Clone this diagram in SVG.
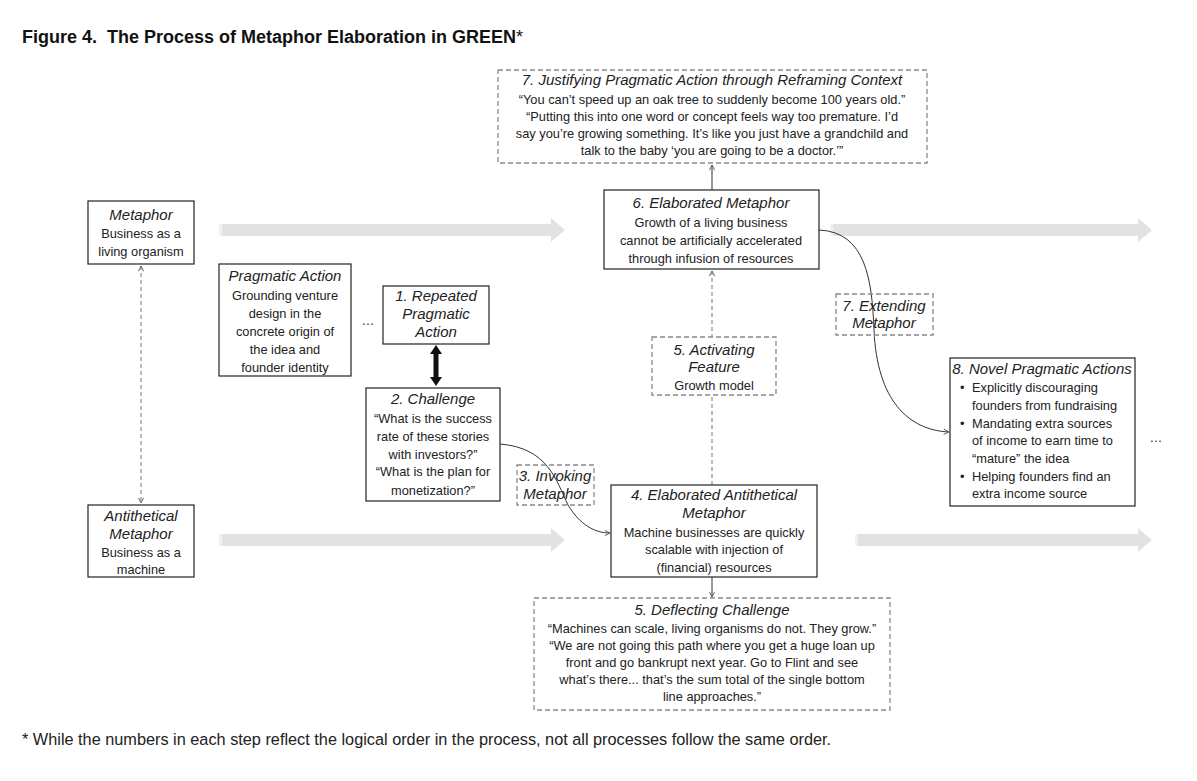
<svg xmlns="http://www.w3.org/2000/svg" width="1197" height="781" viewBox="0 0 1197 781">
<defs>
<style>
text{font-family:"Liberation Sans",Arial,sans-serif;font-size:12.8px;fill:#222;text-anchor:middle}
.it{font-style:italic;font-size:15px}
.l{text-anchor:start}
.box{fill:#fff;stroke:#222;stroke-width:1.2}
.dbox{fill:#fff;stroke:#8a8a8a;stroke-width:1.3;stroke-dasharray:5,3}
.gray{fill:#e2e2e4}
.con{fill:none;stroke:#333;stroke-width:1}
.dcon{fill:none;stroke:#777;stroke-width:1;stroke-dasharray:4,3}
</style>
<marker id="ah" viewBox="0 0 8 8" refX="7" refY="4" markerWidth="7" markerHeight="7" orient="auto-start-reverse" markerUnits="userSpaceOnUse">
<path d="M1,1 L7,4 L1,7" fill="none" stroke="#555" stroke-width="1"/>
</marker>
</defs>
<rect width="1197" height="781" fill="#fff"/>
<text x="22" y="43" class="l" xml:space="preserve" style="font-weight:bold;font-size:18px;fill:#111">Figure 4.  The Process of Metaphor Elaboration in GREEN<tspan style="font-weight:normal">*</tspan></text>

<g id="flow-arrows">
<path class="gray" d="M219,224 H551 V218 L565,230 L551,242 V236 H219 Z"/>
<rect x="219" y="224" width="3" height="12" fill="#f2f2f2"/>
<path class="gray" d="M830,224 H1138 V218 L1152,230 L1138,242 V236 H830 Z"/>
<rect x="830" y="224" width="3" height="12" fill="#f2f2f2"/>
<path class="gray" d="M219,534 H551 V528 L565,540 L551,552 V546 H219 Z"/>
<rect x="219" y="534" width="3" height="12" fill="#f2f2f2"/>
<path class="gray" d="M855,534 H1138 V528 L1152,540 L1138,552 V546 H855 Z"/>
<rect x="855" y="534" width="3" height="12" fill="#f2f2f2"/>
</g>

<g id="connectors">
<line class="dcon" x1="141" y1="266" x2="141" y2="503" marker-start="url(#ah)" marker-end="url(#ah)"/>
<line class="con" x1="712" y1="190" x2="712" y2="165" marker-end="url(#ah)"/>
<line class="dcon" x1="712" y1="485" x2="712" y2="271" marker-end="url(#ah)"/>
<line class="con" x1="712" y1="577" x2="712" y2="597" marker-end="url(#ah)"/>
<path class="con" d="M500,444 C548,448 556,480 568,505 C580,525 595,533 610,533" marker-end="url(#ah)"/>
<path class="con" d="M819,230 C866,232 872,280 874,330 C877,400 908,430 949,432" marker-end="url(#ah)"/>
<g id="double-arrow" fill="#111">
<rect x="433.5" y="352" width="5" height="28"/>
<path d="M436,345 L442,354 H430 Z"/>
<path d="M436,386 L442,377 H430 Z"/>
</g>
</g>

<g id="n-justify">
<rect class="dbox" x="498" y="70" width="429" height="93"/>
<text class="it" x="712" y="85">7. Justifying Pragmatic Action through Reframing Context</text>
<text x="712" y="104">“You can’t speed up an oak tree to suddenly become 100 years old.”</text>
<text x="712" y="121">“Putting this into one word or concept feels way too premature. I’d</text>
<text x="712" y="138">say you’re growing something. It’s like you just have a grandchild and</text>
<text x="712" y="155">talk to the baby ‘you are going to be a doctor.’”</text>
</g>

<g id="n-elaborated">
<rect class="box" x="604" y="190" width="215" height="79"/>
<text class="it" x="711" y="208">6. Elaborated Metaphor</text>
<text x="711" y="227">Growth of a living business</text>
<text x="711" y="245">cannot be artificially accelerated</text>
<text x="711" y="263">through infusion of resources</text>
</g>

<g id="n-metaphor">
<rect class="box" x="88" y="201" width="106" height="63"/>
<text class="it" x="141" y="220">Metaphor</text>
<text x="141" y="238">Business as a</text>
<text x="141" y="256">living organism</text>
</g>

<g id="n-pragmatic">
<rect class="box" x="219" y="264" width="132" height="112"/>
<text class="it" x="285" y="281">Pragmatic Action</text>
<text x="285" y="300">Grounding venture</text>
<text x="285" y="318">design in the</text>
<text x="285" y="336">concrete origin of</text>
<text x="285" y="354">the idea and</text>
<text x="285" y="372">founder identity</text>
</g>

<text x="368" y="325">…</text>

<g id="n-repeated">
<rect class="box" x="383" y="286" width="106" height="58"/>
<text class="it" x="436" y="301">1. Repeated</text>
<text class="it" x="436" y="319">Pragmatic</text>
<text class="it" x="436" y="337">Action</text>
</g>

<g id="n-challenge">
<rect class="box" x="366" y="388" width="134" height="113"/>
<text class="it" x="433" y="404">2. Challenge</text>
<text x="433" y="423">“What is the success</text>
<text x="433" y="441">rate of these stories</text>
<text x="433" y="459">with investors?”</text>
<text x="433" y="476">“What is the plan for</text>
<text x="433" y="495">monetization?”</text>
</g>

<g id="n-invoking">
<rect class="dbox" x="517" y="465" width="77" height="40" fill-opacity="0"/>
<text class="it" x="555" y="481">3. Invoking</text>
<text class="it" x="555" y="499">Metaphor</text>
</g>

<g id="n-activating">
<rect class="dbox" x="652" y="337" width="124" height="58"/>
<text class="it" x="714" y="355">5. Activating</text>
<text class="it" x="714" y="372">Feature</text>
<text x="714" y="390">Growth model</text>
</g>

<g id="n-extending">
<rect class="dbox" x="836" y="294" width="97" height="41" fill-opacity="0"/>
<text class="it" x="884" y="311">7. Extending</text>
<text class="it" x="884" y="328">Metaphor</text>
</g>

<g id="n-antithetical-elab">
<rect class="box" x="611" y="485" width="206" height="92"/>
<text class="it" x="714" y="500">4. Elaborated Antithetical</text>
<text class="it" x="714" y="518">Metaphor</text>
<text x="714" y="537">Machine businesses are quickly</text>
<text x="714" y="554">scalable with injection of</text>
<text x="714" y="572">(financial) resources</text>
</g>

<g id="n-antithetical">
<rect class="box" x="88" y="505" width="106" height="72"/>
<text class="it" x="141" y="521">Antithetical</text>
<text class="it" x="141" y="539">Metaphor</text>
<text x="141" y="557">Business as a</text>
<text x="141" y="574">machine</text>
</g>

<g id="n-novel">
<rect class="box" x="950" y="358" width="185" height="148"/>
<text class="it" x="1042" y="374">8. Novel Pragmatic Actions</text>
<text class="l" x="960" y="392">•</text><text class="l" x="972" y="392">Explicitly discouraging</text>
<text class="l" x="972" y="410">founders from fundraising</text>
<text class="l" x="960" y="428">•</text><text class="l" x="972" y="428">Mandating extra sources</text>
<text class="l" x="972" y="445">of income to earn time to</text>
<text class="l" x="972" y="463">“mature” the idea</text>
<text class="l" x="960" y="481">•</text><text class="l" x="972" y="481">Helping founders find an</text>
<text class="l" x="972" y="498">extra income source</text>
</g>

<text x="1156" y="442">…</text>

<g id="n-deflecting">
<rect class="dbox" x="534" y="598" width="356" height="112"/>
<text class="it" x="712" y="615">5. Deflecting Challenge</text>
<text x="712" y="633">“Machines can scale, living organisms do not. They grow.”</text>
<text x="712" y="650">“We are not going this path where you get a huge loan up</text>
<text x="712" y="667">front and go bankrupt next year. Go to Flint and see</text>
<text x="712" y="684">what’s there... that’s the sum total of the single bottom</text>
<text x="712" y="701">line approaches.”</text>
</g>

<text class="l" x="22" y="745" style="font-size:16.3px">* While the numbers in each step reflect the logical order in the process, not all processes follow the same order.</text>
</svg>
